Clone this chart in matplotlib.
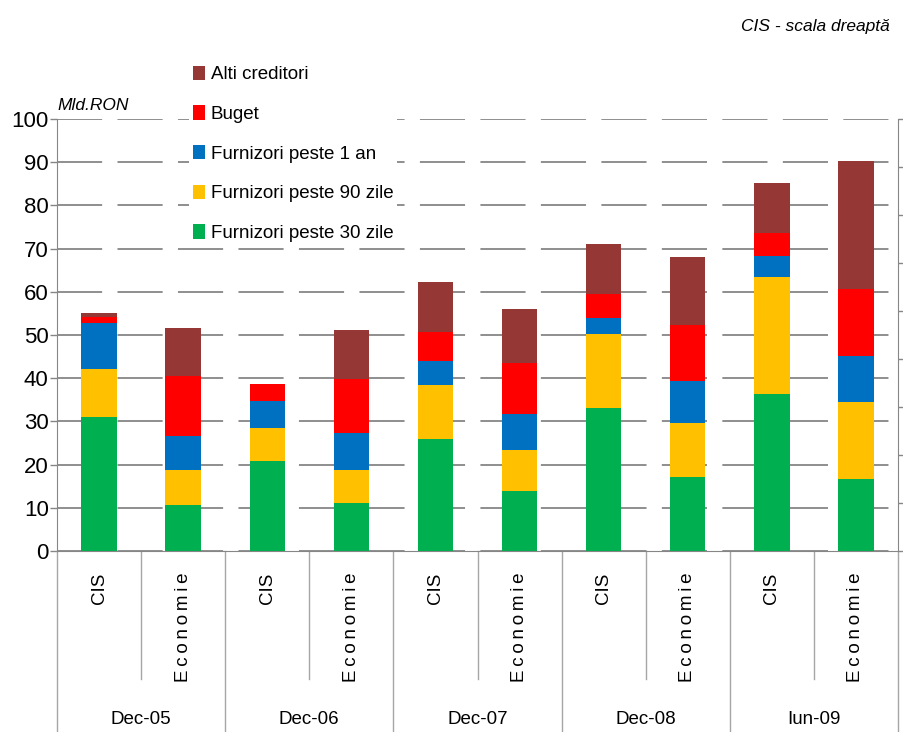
import matplotlib.pyplot as plt
from matplotlib.transforms import blended_transform_factory

plt.rcParams['font.family'] = ['Liberation Sans', 'DejaVu Sans']

periods = ['Dec-05', 'Dec-06', 'Dec-07', 'Dec-08', 'Iun-09']
sectors = ['CIS', 'Economie']
series = ['Furnizori peste 30 zile', 'Furnizori peste 90 zile',
          'Furnizori peste 1 an', 'Buget', 'Alti creditori']
colors = ['#00B050', '#FFC000', '#0070C0', '#FF0000', '#953735']

# CIS - right scale (0-90), one list per series, one value per period
cis_30 = [28.0, 18.8, 23.4, 29.7, 32.7]
cis_90 = [9.9, 6.8, 11.1, 15.6, 24.3]
cis_1an = [9.6, 5.6, 5.1, 3.2, 4.4]
cis_buget = [1.2, 3.6, 6.1, 5.1, 4.8]
cis_alti = [0.9, 0.0, 10.4, 10.4, 10.4]

# Economie - left scale (Mld.RON)
eco_30 = [10.6, 11.2, 14.0, 17.1, 16.7]
eco_90 = [8.2, 7.6, 9.4, 12.5, 17.7]
eco_1an = [7.9, 8.4, 8.4, 9.8, 10.7]
eco_buget = [13.9, 12.5, 11.7, 12.8, 15.6]
eco_alti = [11.0, 11.5, 12.6, 15.9, 29.6]

cis = [cis_30, cis_90, cis_1an, cis_buget, cis_alti]
eco = [eco_30, eco_90, eco_1an, eco_buget, eco_alti]

grey = '#868686'
W, H = 904, 732
fig = plt.figure(figsize=(W / 100, H / 100), dpi=100)
ax = fig.add_axes([57 / W, 1 - 551 / H, (898 - 57) / W, 432 / H])
ax2 = ax.twinx()

n = len(periods)
x_cis = [2 * i for i in range(n)]
x_eco = [2 * i + 1 for i in range(n)]
bw = 0.42

handles = []
bottom_c = [0.0] * n
bottom_e = [0.0] * n
for k in range(len(series)):
    ax2.bar(x_cis, cis[k], bw, bottom=bottom_c, color=colors[k], linewidth=0)
    h = ax.bar(x_eco, eco[k], bw, bottom=bottom_e, color=colors[k], linewidth=0,
               label=series[k])
    handles.append(h)
    bottom_c = [b + v for b, v in zip(bottom_c, cis[k])]
    bottom_e = [b + v for b, v in zip(bottom_e, eco[k])]

ax.set_xlim(-0.5, 2 * n - 0.5)
ax.set_ylim(0, 100)
ax.set_yticks(range(0, 101, 10))
ax2.set_ylim(0, 90)
ax2.set_yticks(range(0, 91, 10))

ax.set_axisbelow(True)
ax.yaxis.grid(True, color=grey, linewidth=1.3, linestyle=(0, (25, 8.5)))
ax.set_xticks([])
ax.tick_params(axis='y', direction='out', length=5, width=1, color=grey,
               labelsize=16, pad=1)
ax2.tick_params(axis='y', direction='out', length=5, width=1, color=grey,
                labelright=False)
for a in (ax, ax2):
    a.spines['top'].set_visible(False)
    a.spines['left'].set_color(grey)
    a.spines['right'].set_color(grey)
    a.spines['bottom'].set_color(grey)
ax.spines['right'].set_visible(False)
ax2.spines['left'].set_visible(False)
ax2.spines['bottom'].set_visible(False)

# two-level category axis
tr = blended_transform_factory(ax.transData, ax.transAxes)
sep = '#a6a6a6'
for i in range(n + 1):
    ax.plot([2 * i - 0.5] * 2, [0, -0.45], transform=tr, color=sep,
            linewidth=1, clip_on=False)
for i in range(n):
    ax.plot([2 * i + 0.5] * 2, [0, -0.296], transform=tr, color=sep,
            linewidth=1, clip_on=False)
    ax.text(x_cis[i], -0.05, sectors[0], transform=tr, rotation=90,
            ha='center', va='top', fontsize=13.5)
    ax.text(x_eco[i], -0.05, '\u2009'.join(sectors[1]), transform=tr,
            rotation=90, ha='center', va='top', fontsize=13.5)
    ax.text(2 * i + 0.5, -0.391, periods[i], transform=tr, ha='center',
            va='center', fontsize=13.5)

fig.legend(handles[::-1], series[::-1], loc='upper left',
           bbox_to_anchor=(189 / W, 1 - 62 / H), fontsize=13.5,
           frameon=True, facecolor='white', edgecolor='none', framealpha=1,
           fancybox=False, handlelength=0.64, handleheight=0.8,
           handletextpad=0.32, labelspacing=1.17, borderpad=0.2,
           borderaxespad=0)

fig.text(57 / W, 1 - 110 / H, 'Mld.RON', fontsize=12.5, style='italic',
         ha='left', va='baseline')
fig.text(890 / W, 1 - 31 / H, 'CIS - scala dreaptă', fontsize=12.5,
         style='italic', ha='right', va='baseline')

fig.savefig('out.png', dpi=100)
